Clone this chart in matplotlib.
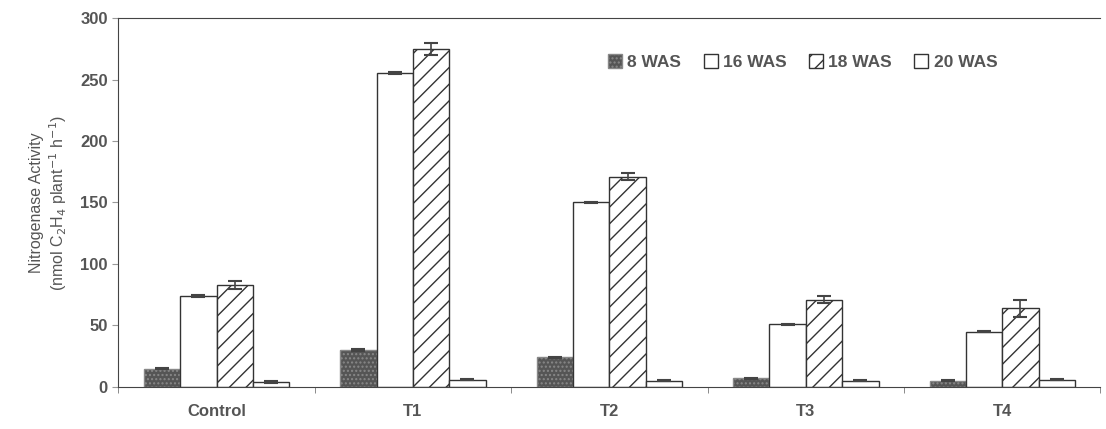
import numpy as np
import matplotlib.pyplot as plt

plt.rcParams['font.family'] = ['Liberation Sans', 'DejaVu Sans']
plt.rcParams['hatch.linewidth'] = 1.0

categories = ['Control', 'T1', 'T2', 'T3', 'T4']
series = ['8 WAS', '16 WAS', '18 WAS', '20 WAS']
was8 = [15, 30, 24, 7, 5]
was16 = [74, 255, 150, 51, 45]
was18 = [83, 275, 171, 71, 64]
was20 = [4, 6, 5, 5, 6]
err8 = [0.5, 0.5, 0.5, 0.5, 0.5]
err16 = [0.5, 0.8, 0.8, 0.5, 0.5]
err18 = [3, 5, 3, 3, 7]
err20 = [0.5, 0.5, 0.5, 0.5, 0.5]

txt = '#555555'
fig = plt.figure(figsize=(11.06, 4.29), dpi=100)
ax = fig.add_axes([0.107, 0.098, 0.888, 0.86])

x = np.arange(len(categories)) + 0.5
w = 0.185
styles = [
    dict(facecolor='#555555', hatch='....', edgecolor='#888888'),
    dict(facecolor='white', hatch='', edgecolor='#333333'),
    dict(facecolor='white', hatch='//', edgecolor='#333333'),
    dict(facecolor='white', hatch='', edgecolor='#333333'),
]
vals = [was8, was16, was18, was20]
errs = [err8, err16, err18, err20]
for i in range(4):
    pos = x + (i - 1.5) * w
    ax.bar(pos, vals[i], w, label=series[i], linewidth=1.0,
           yerr=errs[i], error_kw=dict(ecolor='#444444', capsize=5, elinewidth=1.2, capthick=1.5),
           **styles[i])

ax.set_xlim(0, 5)
ax.set_ylim(0, 300)
ax.set_yticks([0, 50, 100, 150, 200, 250, 300])
ax.set_xticks(x)
ax.set_xticklabels(categories, fontweight='bold', color=txt, fontsize=12)
ax.set_xticks(np.arange(0, 6), minor=True)
ax.tick_params(axis='x', which='major', length=0, pad=12)
ax.tick_params(axis='x', which='minor', length=4, direction='out', color='#777777')
ax.tick_params(axis='y', length=4, color='#999999', labelcolor=txt, labelsize=12)
for t in ax.get_yticklabels():
    t.set_fontweight('bold')
ax.spines['right'].set_visible(False)
for s in ['left', 'bottom', 'top']:
    ax.spines[s].set_color('#444444')
ax.set_ylabel('Nitrogenase Activity\n(nmol C$_2$H$_4$ plant$^{-1}$ h$^{-1}$)',
              color=txt, fontsize=11.5, labelpad=8)

ax.legend(loc='center left', bbox_to_anchor=(0.483, 0.88), ncol=4, frameon=False,
          handlelength=0.8, handleheight=0.8, handletextpad=0.3, columnspacing=1.3,
          prop=dict(weight='bold', size=12.5), labelcolor=txt)

fig.savefig('out.png')
